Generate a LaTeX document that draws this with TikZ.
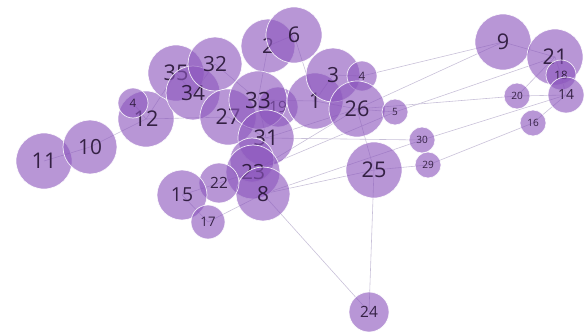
\documentclass[tikz,border=0pt]{standalone}
\usepackage{fontspec}
\setmainfont{Open Sans}
\usetikzlibrary{backgrounds}
\definecolor{bubfill}{RGB}{140,86,189}
\definecolor{linkcol}{RGB}{200,192,216}
\definecolor{labcol}{RGB}{38,20,52}
\begin{document}
\begin{tikzpicture}[x=0.03cm, y=-0.03cm,
    bubble/.style={circle, inner sep=0pt, fill=bubfill, fill opacity=0.62,
        draw=white, draw opacity=0.85, line width=0.6pt,
        text=labcol, text opacity=0.9, minimum size=#1*0.06cm,
        font={\pgfmathsetmacro\bubfs{0.66*#1}\fontsize{\bubfs pt}{\bubfs pt}\selectfont}},
    link/.style={draw=linkcol, line width=0.5pt}]
    \useasboundingbox (0,0) rectangle (586,333);

    % left cluster
    \node[bubble=28] (n11) at (44,161) {11};
    \node[bubble=27] (n10) at (90,147) {10};
    \node[bubble=28] (n12) at (146,119) {12};
    \node[bubble=15] (n4a) at (133,103) {4};
    \node[bubble=28] (n35) at (176,73) {35};
    \node[bubble=27] (n34) at (193,93) {34};
    \node[bubble=27] (n32) at (215,64) {32};

    % centre
    \node[bubble=27] (n2) at (268,46) {2};
    \node[bubble=28] (n6) at (294,35) {6};
    \node[bubble=28] (n27) at (228,117) {27};
    \node[bubble=20] (n19) at (278,107) {19};
    \node[bubble=29] (n33) at (258,100) {33};
    \node[bubble=28] (n1) at (315,101) {1};
    \node[bubble=27] (n3) at (333,75) {3};
    \node[bubble=15] (n4b) at (362,76) {4};
    \node[bubble=28] (n26) at (357,109) {26};
    \node[bubble=13] (n5) at (395,112) {5};
    \node[bubble=28] (n31) at (266,138) {31};
    \node[bubble=22] (nx) at (252,160) {};
    \node[bubble=27] (n23) at (253,172) {23};
    \node[bubble=27] (n8) at (263,194) {8};
    \node[bubble=20] (n22) at (219,183) {22};
    \node[bubble=25] (n15) at (182,195) {15};
    \node[bubble=17] (n17) at (208,222) {17};

    % right side
    \node[bubble=13] (n30) at (422,140) {30};
    \node[bubble=13] (n29) at (428,165) {29};
    \node[bubble=28] (n25) at (374,170) {25};
    \node[bubble=20] (n24) at (369,312) {24};
    \node[bubble=28] (n9) at (503,42) {9};
    \node[bubble=28] (n21) at (555,57) {21};
    \node[bubble=15] (n18) at (561,75) {18};
    \node[bubble=13] (n20) at (517,96) {20};
    \node[bubble=18] (n14) at (566,95) {14};
    \node[bubble=13] (n16) at (533,123) {16};

    % links
    \begin{pgfonlayer}{background}
        \foreach \a/\b in {11/10, 10/12, 12/4a, 12/35, 12/27, 35/34, 34/32,
            32/33, 27/31, 33/31, 33/1, 2/6, 2/33, 6/1, 3/1, 3/4b, 4b/9,
            1/26, 26/5, 26/20, 20/14, 5/21, 26/9, 31/30, 30/14, 29/16,
            31/26, 23/26, 23/5, 26/25, 8/25, 25/29, 25/24, 8/24, 8/30,
            23/22, 22/15, 15/17, 17/8, 9/21, 21/18, 18/14, 16/14, 20/21}
            \draw[link] (n\a.center) -- (n\b.center);
    \end{pgfonlayer}
\end{tikzpicture}
\end{document}
